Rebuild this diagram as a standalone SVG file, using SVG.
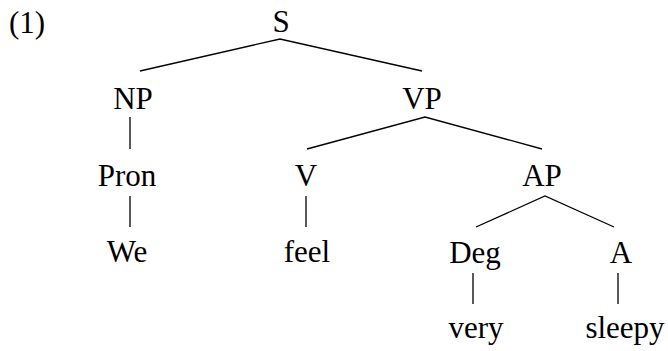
<svg xmlns="http://www.w3.org/2000/svg" width="668" height="351" viewBox="0 0 668 351">
<style>
text{font-family:"Liberation Serif","Times New Roman",serif;font-size:31px;fill:#000;text-anchor:middle}
.l{stroke:#000;stroke-width:1.3;fill:none}
</style>
<rect width="668" height="351" fill="#fff"/>
<text x="27" y="33">(1)</text>
<g id="S"><text x="281" y="32">S</text></g>
<g id="NP"><text x="133" y="109">NP</text></g>
<g id="VP"><text x="422" y="109">VP</text></g>
<g id="Pron"><text x="127" y="186">Pron</text></g>
<g id="V"><text x="306" y="186">V</text></g>
<g id="AP"><text x="542" y="186">AP</text></g>
<g id="We"><text x="127" y="262">We</text></g>
<g id="feel"><text x="307" y="262">feel</text></g>
<g id="Deg"><text x="475" y="263">Deg</text></g>
<g id="A"><text x="621" y="263">A</text></g>
<g id="very"><text x="476" y="338">very</text></g>
<g id="sleepy"><text x="625" y="338">sleepy</text></g>
<g id="connectors" class="l">
<path d="M140 71 L280 39 L422 71"/>
<path d="M130 117 V149"/>
<path d="M307 149 L425 117 L542 149"/>
<path d="M130 196 V227"/>
<path d="M306 196 V227"/>
<path d="M476 227 L545 196 L614 227"/>
<path d="M473 273 V304"/>
<path d="M618 273 V304"/>
</g>
</svg>
